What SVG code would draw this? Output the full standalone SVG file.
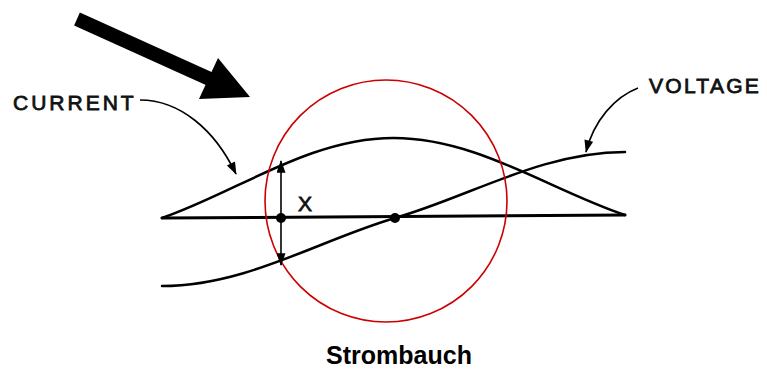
<svg xmlns="http://www.w3.org/2000/svg" width="767" height="370" viewBox="0 0 767 370">
<style>
.ln{fill:none;stroke:#000;stroke-width:2.5;stroke-linecap:round}
.lead{fill:none;stroke:#000;stroke-width:1.6}
.lbl{font-family:"Liberation Sans",Arial,sans-serif;font-size:21px;fill:#111;stroke:#111;stroke-width:0.8}
</style>
<defs>
<marker id="ah2" viewBox="0 0 14 10" refX="13" refY="5" markerWidth="15" markerHeight="9" markerUnits="userSpaceOnUse" orient="auto"><path d="M0,0 L14,5 L0,10 Z" fill="#000"/></marker>
</defs>
<rect width="767" height="370" fill="#fff"/>
<g id="big-arrow">
<line x1="77" y1="19" x2="212" y2="80" stroke="#000" stroke-width="14"/>
<polygon points="218,58 250,97 199,99" fill="#000"/>
</g>
<g id="axis">
<line class="ln" x1="162" y1="218" x2="625" y2="215" style="stroke-width:3"/>
</g>
<g id="current-curve">
<path class="ln" d="M162,218 C237.5,191.9 309.7,138 393.5,138 C477.3,138 549.5,189.9 625,215"/>
</g>
<g id="voltage-curve">
<path class="ln" d="M162,286 C246.3,286 319,240.2 395,218 C470,196.5 541.8,152 625,152"/>
</g>
<g id="red-circle">
<circle cx="386" cy="201" r="121" fill="none" stroke="#cc0000" stroke-width="1.6"/>
</g>
<g id="x-measure">
<line x1="281" y1="218" x2="281" y2="161" class="lead" marker-end="url(#ah2)"/>
<line x1="281" y1="218" x2="281" y2="265" class="lead" marker-end="url(#ah2)"/>
<circle cx="281" cy="218" r="5" fill="#000"/>
<text class="lbl" x="298" y="211">X</text>
</g>
<g id="zero-dot">
<circle cx="395" cy="218" r="5" fill="#000"/>
</g>
<g id="current-label">
<text class="lbl" x="13" y="110" letter-spacing="3">CURRENT</text>
</g>
<g id="voltage-label">
<text class="lbl" x="649" y="93" letter-spacing="2.3">VOLTAGE</text>
</g>
<g id="connectors">
<path class="lead" d="M140,100 C180,100 215,130 236,174" marker-end="url(#ah2)"/>
<path class="lead" d="M638,88 C615,97 594,120 586,152" marker-end="url(#ah2)"/>
</g>
<g id="caption">
<text x="399" y="364" text-anchor="middle" style="font-family:'Liberation Sans',Arial,sans-serif;font-size:25px;font-weight:bold;fill:#000">Strombauch</text>
</g>
</svg>
